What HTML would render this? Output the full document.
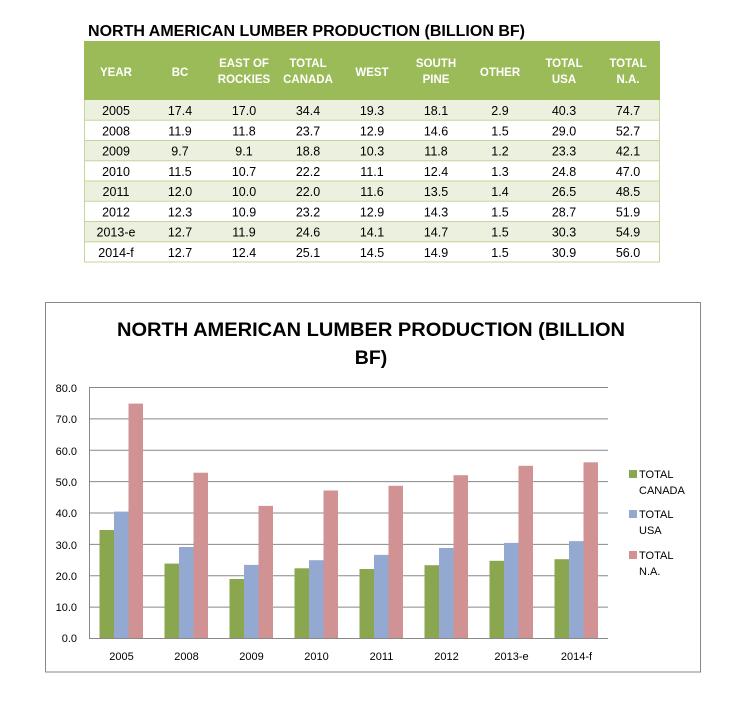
<!DOCTYPE html>
<html><head><meta charset="utf-8"><style>
body{margin:0;background:#fff;width:740px;height:712px;overflow:hidden}
svg{display:block;font-family:"Liberation Sans",sans-serif}
</style></head><body>
<svg width="740" height="712" xmlns="http://www.w3.org/2000/svg">
<text x="88" y="36" font-size="16" font-weight="bold" textLength="437" lengthAdjust="spacingAndGlyphs">NORTH AMERICAN LUMBER PRODUCTION (BILLION BF)</text>
<rect x="84" y="41" width="576" height="59" fill="#9bbb59"/>
<g fill="#fff" font-size="11.5" font-weight="bold" text-anchor="middle">
<text x="116" y="76">YEAR</text><text x="180" y="76">BC</text>
<text x="244" y="67">EAST OF</text><text x="244" y="83">ROCKIES</text>
<text x="308" y="67">TOTAL</text><text x="308" y="83">CANADA</text>
<text x="372" y="76">WEST</text>
<text x="436" y="67">SOUTH</text><text x="436" y="83">PINE</text>
<text x="500" y="76">OTHER</text>
<text x="564" y="67">TOTAL</text><text x="564" y="83">USA</text>
<text x="628" y="67">TOTAL</text><text x="628" y="83">N.A.</text>
</g>
<g fill="#ebf1de"><rect x="84" y="100" width="576" height="20.25"/><rect x="84" y="140.5" width="576" height="20.25"/><rect x="84" y="181" width="576" height="20.25"/><rect x="84" y="221.5" width="576" height="20.25"/></g>
<g stroke="#c3d69b" stroke-width="1"><line x1="84" y1="120.25" x2="660" y2="120.25"/><line x1="84" y1="140.5" x2="660" y2="140.5"/><line x1="84" y1="160.75" x2="660" y2="160.75"/><line x1="84" y1="181" x2="660" y2="181"/><line x1="84" y1="201.25" x2="660" y2="201.25"/><line x1="84" y1="221.5" x2="660" y2="221.5"/><line x1="84" y1="241.75" x2="660" y2="241.75"/><line x1="84" y1="262" x2="660" y2="262"/><line x1="84.5" y1="100" x2="84.5" y2="262"/><line x1="659.5" y1="100" x2="659.5" y2="262"/></g>
<g font-size="12.5" text-anchor="middle" fill="#000">
<g transform="translate(0,115)"><text x="116">2005</text><text x="180">17.4</text><text x="244">17.0</text><text x="308">34.4</text><text x="372">19.3</text><text x="436">18.1</text><text x="500">2.9</text><text x="564">40.3</text><text x="628">74.7</text></g>
<g transform="translate(0,135.25)"><text x="116">2008</text><text x="180">11.9</text><text x="244">11.8</text><text x="308">23.7</text><text x="372">12.9</text><text x="436">14.6</text><text x="500">1.5</text><text x="564">29.0</text><text x="628">52.7</text></g>
<g transform="translate(0,155.5)"><text x="116">2009</text><text x="180">9.7</text><text x="244">9.1</text><text x="308">18.8</text><text x="372">10.3</text><text x="436">11.8</text><text x="500">1.2</text><text x="564">23.3</text><text x="628">42.1</text></g>
<g transform="translate(0,175.75)"><text x="116">2010</text><text x="180">11.5</text><text x="244">10.7</text><text x="308">22.2</text><text x="372">11.1</text><text x="436">12.4</text><text x="500">1.3</text><text x="564">24.8</text><text x="628">47.0</text></g>
<g transform="translate(0,196)"><text x="116">2011</text><text x="180">12.0</text><text x="244">10.0</text><text x="308">22.0</text><text x="372">11.6</text><text x="436">13.5</text><text x="500">1.4</text><text x="564">26.5</text><text x="628">48.5</text></g>
<g transform="translate(0,216.25)"><text x="116">2012</text><text x="180">12.3</text><text x="244">10.9</text><text x="308">23.2</text><text x="372">12.9</text><text x="436">14.3</text><text x="500">1.5</text><text x="564">28.7</text><text x="628">51.9</text></g>
<g transform="translate(0,236.5)"><text x="116">2013-e</text><text x="180">12.7</text><text x="244">11.9</text><text x="308">24.6</text><text x="372">14.1</text><text x="436">14.7</text><text x="500">1.5</text><text x="564">30.3</text><text x="628">54.9</text></g>
<g transform="translate(0,256.75)"><text x="116">2014-f</text><text x="180">12.7</text><text x="244">12.4</text><text x="308">25.1</text><text x="372">14.5</text><text x="436">14.9</text><text x="500">1.5</text><text x="564">30.9</text><text x="628">56.0</text></g>
</g>
<rect x="45.5" y="302.5" width="655" height="369.5" fill="#fff" stroke="#888"/>
<text x="371" y="336" font-size="19.5" font-weight="bold" text-anchor="middle" textLength="508" lengthAdjust="spacingAndGlyphs">NORTH AMERICAN LUMBER PRODUCTION (BILLION</text>
<text x="371" y="364" font-size="19.5" font-weight="bold" text-anchor="middle">BF)</text>
<g stroke="#888" stroke-width="1">
<line x1="89" y1="387.5" x2="608" y2="387.5"/><line x1="89" y1="418.9" x2="608" y2="418.9"/><line x1="89" y1="450.3" x2="608" y2="450.3"/><line x1="89" y1="481.6" x2="608" y2="481.6"/><line x1="89" y1="513" x2="608" y2="513"/><line x1="89" y1="544.4" x2="608" y2="544.4"/><line x1="89" y1="575.8" x2="608" y2="575.8"/><line x1="89" y1="607.1" x2="608" y2="607.1"/>
<line x1="89.5" y1="387" x2="89.5" y2="638"/>
</g>
<g font-size="11" text-anchor="end">
<text x="77" y="392">80.0</text><text x="77" y="423">70.0</text><text x="77" y="455">60.0</text><text x="77" y="486">50.0</text><text x="77" y="517">40.0</text><text x="77" y="549">30.0</text><text x="77" y="580">20.0</text><text x="77" y="611">10.0</text><text x="77" y="642">0.0</text>
</g>
<g fill="#8aa64f">
<rect x="99.5" y="530" width="14.5" height="108"/><rect x="164.5" y="563.6" width="14.5" height="74.4"/><rect x="229.5" y="579" width="14.5" height="59"/><rect x="294.5" y="568.3" width="14.5" height="69.7"/><rect x="359.5" y="569" width="14.5" height="69"/><rect x="424.5" y="565.2" width="14.5" height="72.8"/><rect x="489.5" y="560.8" width="14.5" height="77.2"/><rect x="554.5" y="559.2" width="14.5" height="78.8"/>
</g>
<g fill="#94a9d1">
<rect x="114" y="511.6" width="14.5" height="126.4"/><rect x="179" y="547" width="14.5" height="91"/><rect x="244" y="564.9" width="14.5" height="73.1"/><rect x="309" y="560.2" width="14.5" height="77.8"/><rect x="374" y="554.9" width="14.5" height="83.1"/><rect x="439" y="548" width="14.5" height="90"/><rect x="504" y="542.9" width="14.5" height="95.1"/><rect x="569" y="541.1" width="14.5" height="96.9"/>
</g>
<g fill="#d19293">
<rect x="128.5" y="403.6" width="14.5" height="234.4"/><rect x="193.5" y="472.7" width="14.5" height="165.3"/><rect x="258.5" y="505.9" width="14.5" height="132.1"/><rect x="323.5" y="490.5" width="14.5" height="147.5"/><rect x="388.5" y="485.8" width="14.5" height="152.2"/><rect x="453.5" y="475.2" width="14.5" height="162.8"/><rect x="518.5" y="465.8" width="14.5" height="172.2"/><rect x="583.5" y="462.3" width="14.5" height="175.7"/>
</g>
<line x1="89" y1="638.5" x2="608" y2="638.5" stroke="#888"/>
<g font-size="11" text-anchor="middle">
<text x="121.5" y="660">2005</text><text x="186.5" y="660">2008</text><text x="251.5" y="660">2009</text><text x="316.5" y="660">2010</text><text x="381.5" y="660">2011</text><text x="446.5" y="660">2012</text><text x="511.5" y="660">2013-e</text><text x="576.5" y="660">2014-f</text>
</g>
<rect x="629" y="470" width="8" height="8" fill="#8aa64f"/>
<rect x="629" y="510" width="8" height="8" fill="#94a9d1"/>
<rect x="629" y="551" width="8" height="8" fill="#d19293"/>
<g font-size="11">
<text x="639" y="478">TOTAL</text><text x="639" y="494">CANADA</text>
<text x="639" y="518">TOTAL</text><text x="639" y="534">USA</text>
<text x="639" y="559">TOTAL</text><text x="639" y="575">N.A.</text>
</g>
</svg>
</body></html>
